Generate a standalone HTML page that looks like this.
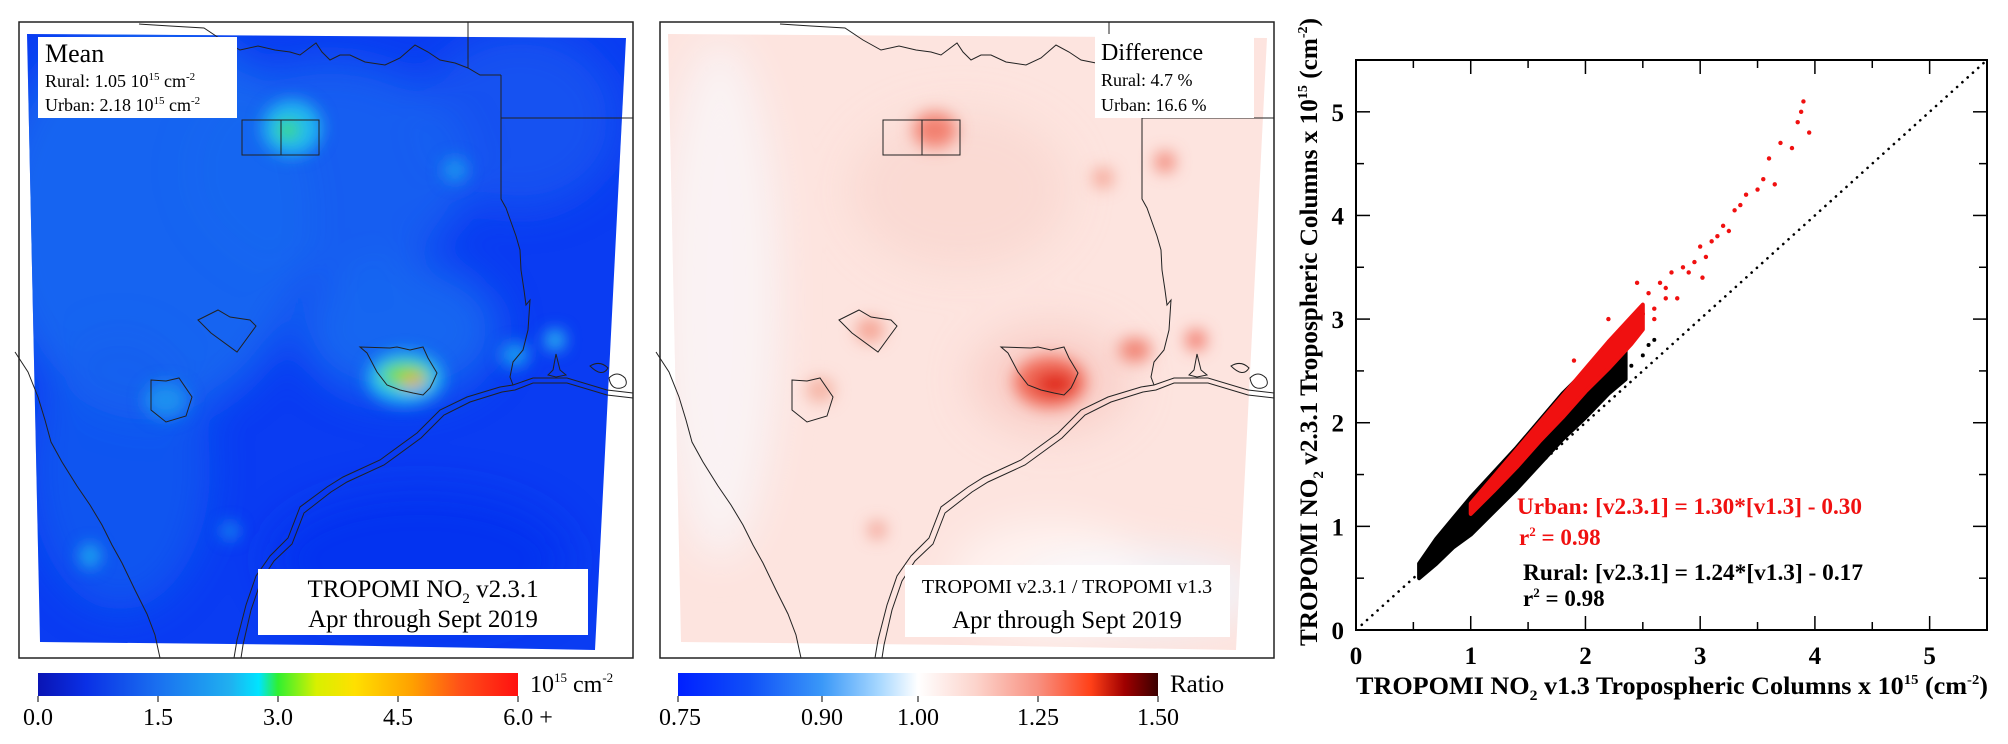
<!DOCTYPE html>
<html><head><meta charset="utf-8">
<style>
html,body{margin:0;padding:0;background:#fff;}
svg{display:block;font-family:"Liberation Serif",serif;}
</style></head>
<body>
<svg id="root" width="2008" height="744" viewBox="0 0 2008 744" xmlns="http://www.w3.org/2000/svg">
<defs>
  <filter id="blur8" x="-50%" y="-50%" width="200%" height="200%"><feGaussianBlur stdDeviation="8"/></filter>
  <filter id="blur20" x="-50%" y="-50%" width="200%" height="200%"><feGaussianBlur stdDeviation="20"/></filter>
  <clipPath id="swath1"><polygon points="27,34 626,38 595,650 320,645 40,642"/></clipPath>
  <clipPath id="swath2"><polygon points="668,34 1267,38 1236,650 961,645 681,642"/></clipPath>
  <linearGradient id="cb1" x1="0" x2="1" y1="0" y2="0">
    <stop offset="0" stop-color="#0a14b4"/><stop offset="0.1" stop-color="#0a30e6"/>
    <stop offset="0.25" stop-color="#1a70f0"/><stop offset="0.4" stop-color="#20b0f0"/>
    <stop offset="0.46" stop-color="#00e4ff"/><stop offset="0.5" stop-color="#30f030"/>
    <stop offset="0.58" stop-color="#d8f000"/><stop offset="0.66" stop-color="#ffe000"/>
    <stop offset="0.78" stop-color="#ffa000"/><stop offset="0.88" stop-color="#ff5018"/>
    <stop offset="1" stop-color="#ff1010"/>
  </linearGradient>
  <linearGradient id="cb2" x1="0" x2="1" y1="0" y2="0">
    <stop offset="0" stop-color="#0020ff"/><stop offset="0.15" stop-color="#1050f8"/>
    <stop offset="0.3" stop-color="#3a98f8"/><stop offset="0.42" stop-color="#a8d8ff"/>
    <stop offset="0.5" stop-color="#ffffff"/><stop offset="0.62" stop-color="#fcd4cc"/>
    <stop offset="0.75" stop-color="#f89080"/><stop offset="0.86" stop-color="#ff4018"/>
    <stop offset="0.93" stop-color="#a00000"/><stop offset="1" stop-color="#3a0000"/>
  </linearGradient>
  <g id="features" fill="none" stroke="#222" stroke-width="1">
    <polyline points="139,24 170,26 204,28 222,40 240,50 258,46 275,50 290,52 300,55 316,43 322,52 330,60 340,55 350,55 365,62 385,65 400,58 415,45 428,52 440,60 455,63 468,68 480,75 501,75"/>
    <line x1="468" y1="22" x2="468" y2="68"/>
    <line x1="501" y1="118" x2="633" y2="118"/>
    <polyline points="501,75 501,199 506,208 511,222 516,236 520,250 521,270 524,290 526,305 530,300 528,330 523,350 513,362 510,377 513,385"/>
    <polyline points="633,393 607,390 567,378 533,378 513,385 500,387 467,397 440,410 417,433 380,460 343,477 327,487 300,507 288,538 270,556 256,576 246,605 237,640 234,658"/>
    <polyline points="633,398 607,395 567,383 533,383 515,390 502,392 470,402 444,415 421,438 384,465 347,482 331,492 304,513 292,544 274,561 261,581 251,610 243,645 241,658"/>
    <polyline points="15,352 28,372 38,397 45,420 51,442 62,462 77,486 90,505 102,525 112,545 122,563 135,590 147,614 155,635 160,658"/>
    <rect x="242" y="120" width="77" height="35"/>
    <line x1="281" y1="120" x2="281" y2="155"/>
    <polygon points="360,347 390,348 397,347 410,350 423,347 428,358 437,373 433,382 430,388 423,395 413,393 400,390 387,385 377,372 367,353"/>
    <polygon points="151,380 166,381 179,378 192,397 186,416 166,422 151,410"/>
    <polygon points="198,320 218,310 230,317 250,320 256,326 237,352 211,333"/>
    <path d="M553,370 l3,-16 l4,16 l6,5 l-10,2 l-8,-2z"/>
    <path d="M590,366 q10,-6 18,2 q-6,10 -18,-2z"/>
    <path d="M609,378 q8,-8 16,0 q4,8 -4,10 q-10,2 -12,-10z"/>
  </g>
</defs>

<!-- PANEL 1 -->
<g>
  <rect x="19" y="22" width="614" height="636" fill="#fff" stroke="#222" stroke-width="1.5"/>
  <g clip-path="url(#swath1)">
    <rect x="18" y="22" width="616" height="636" fill="#0a3cf2"/>
    <g filter="url(#blur20)">
      <ellipse cx="150" cy="220" rx="160" ry="200" fill="#1a6ef0" opacity="0.8"/>
      <ellipse cx="330" cy="170" rx="140" ry="110" fill="#1a68f0" opacity="0.75"/>
      <ellipse cx="520" cy="120" rx="100" ry="90" fill="#1a60f0" opacity="0.6"/>
      <ellipse cx="120" cy="470" rx="90" ry="140" fill="#1560f0" opacity="0.7"/>
      <ellipse cx="400" cy="330" rx="100" ry="70" fill="#1a70f0" opacity="0.8"/>
      <ellipse cx="420" cy="560" rx="150" ry="70" fill="#0830f0" opacity="0.7"/>
    </g>
    <g filter="url(#blur8)">
      <ellipse cx="292" cy="128" rx="30" ry="28" fill="#20b8f0"/>
      <ellipse cx="288" cy="130" rx="11" ry="9" fill="#40e050"/>
      <ellipse cx="405" cy="378" rx="38" ry="26" fill="#20c0f0"/>
      <ellipse cx="405" cy="375" rx="24" ry="12" fill="#70e030"/>
      <ellipse cx="413" cy="381" rx="12" ry="6" fill="#ffb010"/>
      <ellipse cx="416" cy="381" rx="5" ry="3" fill="#ff4010"/>
      <ellipse cx="455" cy="170" rx="12" ry="12" fill="#1a98f0"/>
      <ellipse cx="555" cy="340" rx="10" ry="10" fill="#30c8f0"/>
      <ellipse cx="515" cy="355" rx="14" ry="12" fill="#1aa0f0"/>
      <ellipse cx="90" cy="556" rx="10" ry="12" fill="#20b0f0"/>
      <ellipse cx="230" cy="531" rx="8" ry="8" fill="#1aa0f0"/>
      <ellipse cx="166" cy="400" rx="22" ry="18" fill="#1a90f0"/>
    </g>
  </g>
  <use href="#features"/>
  <rect x="38" y="37" width="199" height="81" fill="#fff"/>
  <text x="45" y="62" font-size="26">Mean</text>
  <text x="45" y="87" font-size="18">Rural: 1.05 10<tspan font-size="11" dy="-7">15</tspan><tspan dy="7"> cm</tspan><tspan font-size="11" dy="-7">-2</tspan></text>
  <text x="45" y="111" font-size="18">Urban: 2.18 10<tspan font-size="11" dy="-7">15</tspan><tspan dy="7"> cm</tspan><tspan font-size="11" dy="-7">-2</tspan></text>
  <rect x="258" y="569" width="330" height="66" fill="#fff"/>
  <text x="423" y="597" font-size="25" text-anchor="middle">TROPOMI NO<tspan font-size="15" dy="6">2</tspan><tspan dy="-6"> v2.3.1</tspan></text>
  <text x="423" y="627" font-size="25" text-anchor="middle">Apr through Sept 2019</text>
  <rect x="38" y="673" width="480" height="23" fill="url(#cb1)"/>
  <g font-size="24" text-anchor="middle">
    <line x1="38" y1="696" x2="38" y2="702" stroke="#000"/><line x1="158" y1="696" x2="158" y2="702" stroke="#000"/>
    <line x1="278" y1="696" x2="278" y2="702" stroke="#000"/><line x1="398" y1="696" x2="398" y2="702" stroke="#000"/>
    <line x1="518" y1="696" x2="518" y2="702" stroke="#000"/>
    <text x="38" y="725">0.0</text><text x="158" y="725">1.5</text><text x="278" y="725">3.0</text><text x="398" y="725">4.5</text><text x="528" y="725">6.0 +</text>
  </g>
  <text x="530" y="692" font-size="24">10<tspan font-size="13" dy="-10">15</tspan><tspan dy="10"> cm</tspan><tspan font-size="13" dy="-10">-2</tspan></text>
</g>

<!-- PANEL 2 -->
<g>
  <rect x="660" y="22" width="614" height="636" fill="#fff" stroke="#222" stroke-width="1.5"/>
  <g clip-path="url(#swath2)">
    <rect x="659" y="22" width="616" height="636" fill="#fde4df"/>
    <g filter="url(#blur20)">
      <ellipse cx="720" cy="300" rx="60" ry="260" fill="#f8f8fc" opacity="0.7"/>
      <ellipse cx="1140" cy="590" rx="120" ry="40" fill="#eef6ff" opacity="0.8"/>
      <ellipse cx="1050" cy="580" rx="100" ry="60" fill="#ffffff" opacity="0.5"/>
      <ellipse cx="1050" cy="380" rx="80" ry="55" fill="#f8c8c0" opacity="0.7"/>
      <ellipse cx="960" cy="190" rx="110" ry="80" fill="#f8d4cc" opacity="0.6"/>
    </g>
    <g filter="url(#blur8)">
      <ellipse cx="935" cy="130" rx="22" ry="18" fill="#f28070"/>
      <ellipse cx="1050" cy="382" rx="36" ry="26" fill="#f06a58"/>
      <ellipse cx="1055" cy="384" rx="20" ry="12" fill="#e02818"/>
      <ellipse cx="1165" cy="162" rx="10" ry="10" fill="#f08070"/>
      <ellipse cx="1103" cy="178" rx="10" ry="10" fill="#f4a090"/>
      <ellipse cx="1196" cy="340" rx="10" ry="10" fill="#f07060"/>
      <ellipse cx="1135" cy="350" rx="16" ry="12" fill="#f08070"/>
      <ellipse cx="870" cy="330" rx="14" ry="12" fill="#f4a090"/>
      <ellipse cx="820" cy="390" rx="14" ry="12" fill="#f4b0a0"/>
      <ellipse cx="877" cy="530" rx="8" ry="8" fill="#f09080"/>
    </g>
  </g>
  <use href="#features" transform="translate(641,0)"/>
  <rect x="1095" y="34" width="159" height="84" fill="#fff"/>
  <text x="1101" y="60" font-size="24">Difference</text>
  <text x="1101" y="86" font-size="18">Rural:   4.7 %</text>
  <text x="1101" y="111" font-size="18">Urban:  16.6 %</text>
  <rect x="905" y="565" width="325" height="72" fill="#fff"/>
  <text x="1067" y="593" font-size="20" text-anchor="middle">TROPOMI v2.3.1 / TROPOMI v1.3</text>
  <text x="1067" y="628" font-size="25" text-anchor="middle">Apr through Sept 2019</text>
  <rect x="678" y="673" width="480" height="23" fill="url(#cb2)"/>
  <g font-size="24" text-anchor="middle">
    <line x1="678" y1="696" x2="678" y2="702" stroke="#000"/><line x1="822" y1="696" x2="822" y2="702" stroke="#000"/>
    <line x1="918" y1="696" x2="918" y2="702" stroke="#000"/><line x1="1038" y1="696" x2="1038" y2="702" stroke="#000"/>
    <line x1="1158" y1="696" x2="1158" y2="702" stroke="#000"/>
    <text x="680" y="725">0.75</text><text x="822" y="725">0.90</text><text x="918" y="725">1.00</text><text x="1038" y="725">1.25</text><text x="1158" y="725">1.50</text>
  </g>
  <text x="1170" y="692" font-size="25">Ratio</text>
</g>

<!-- PANEL 3 scatter -->
<g id="scatter"></g>
</svg>

<script>
// ---- scatter data (units 1e15 cm^-2) ----
const ruralEnvX    = [0.55, 0.7, 0.85, 1.0, 1.2, 1.4, 1.6, 1.8, 2.0, 2.2, 2.35];
const ruralEnvLow  = [0.50, 0.64, 0.80, 0.92, 1.14, 1.36, 1.60, 1.84, 2.05, 2.28, 2.42];
const ruralEnvHigh = [0.64, 0.88, 1.08, 1.28, 1.52, 1.76, 2.02, 2.28, 2.50, 2.68, 2.78];
const urbanEnvX    = [1.0, 1.2, 1.4, 1.6, 1.8, 2.0, 2.2, 2.4, 2.5];
const urbanEnvLow  = [1.12, 1.34, 1.57, 1.82, 2.05, 2.30, 2.52, 2.76, 2.90];
const urbanEnvHigh = [1.22, 1.48, 1.74, 2.00, 2.26, 2.52, 2.78, 3.02, 3.14];
const urbanOutX = [2.55, 2.6, 2.65, 2.7, 2.75, 2.8, 2.85, 2.9, 2.95, 3.0, 3.02, 3.05, 3.1, 3.15, 3.2, 3.25, 3.3, 3.35, 3.4, 3.5, 3.55, 3.6, 3.65, 3.7, 3.8, 3.85, 3.88, 3.9, 3.95, 2.45, 2.2, 1.9, 2.5, 2.6, 2.7];
const urbanOutY = [3.25, 3.1, 3.35, 3.3, 3.45, 3.2, 3.5, 3.45, 3.55, 3.7, 3.4, 3.6, 3.75, 3.8, 3.9, 3.85, 4.05, 4.1, 4.2, 4.25, 4.35, 4.55, 4.3, 4.7, 4.65, 4.9, 5.0, 5.1, 4.8, 3.35, 3.0, 2.6, 3.05, 3.0, 3.2];
const ruralOutX = [2.3, 2.4, 2.5, 2.6, 2.2, 2.1, 2.45, 2.35, 2.55];
const ruralOutY = [2.45, 2.55, 2.65, 2.8, 2.3, 2.2, 2.9, 2.7, 2.75];
const xTicks = [0, 1, 2, 3, 4, 5];
const yTicks = [0, 1, 2, 3, 4, 5];

const NS = 'http://www.w3.org/2000/svg';
const g = document.getElementById('scatter');
const X0 = 1356, X1 = 1987, Y0 = 630, Y1 = 60, MAX = 5.5;
function sx(v){ return X0 + (X1 - X0) * v / MAX; }
function sy(v){ return Y0 - (Y0 - Y1) * v / MAX; }
function mk(tag, attrs, parent){
  const e = document.createElementNS(NS, tag);
  for (const k in attrs) e.setAttribute(k, attrs[k]);
  (parent || g).appendChild(e);
  return e;
}

const frame = mk('rect', {x:X0, y:Y1, width:X1-X0, height:Y0-Y1, fill:'none', stroke:'#000', 'stroke-width':2});



const one = mk('line', {x1:sx(0.05), y1:sy(0.05), x2:sx(5.5), y2:sy(5.5), stroke:'#000', 'stroke-width':2.6, 'stroke-dasharray':'0.1 7', 'stroke-linecap':'round'});



function envelope(xs, lo, hi, color, name){
  const pts = [];
  for (let i = 0; i < xs.length; i++) pts.push(sx(xs[i]) + ',' + sy(hi[i]));
  for (let i = xs.length - 1; i >= 0; i--) pts.push(sx(xs[i]) + ',' + sy(lo[i]));
  const p = mk('polygon', {points: pts.join(' '), fill: color, stroke: color, 'stroke-width': 4, 'stroke-linejoin':'round'});
  
  
}
envelope(ruralEnvX, ruralEnvLow, ruralEnvHigh, '#000', 'rural-point-cloud');
for (let i = 0; i < ruralOutX.length; i++){
  const c = mk('circle', {cx: sx(ruralOutX[i]), cy: sy(ruralOutY[i]), r: 2, fill: '#000'});
  
  
}
envelope(urbanEnvX, urbanEnvLow, urbanEnvHigh, '#f01010', 'urban-point-cloud');
for (let i = 0; i < urbanOutX.length; i++){
  const c = mk('circle', {cx: sx(urbanOutX[i]), cy: sy(urbanOutY[i]), r: 2.2, fill: '#f01010'});
  
  
}

for (let v = 0; v <= 5.5001; v += 0.5){
  const len = (Math.abs(v - Math.round(v)) < 1e-6) ? 14 : 8;
  mk('line', {x1:sx(v), y1:Y0, x2:sx(v), y2:Y0-len, stroke:'#000', 'stroke-width':1.5});
  mk('line', {x1:sx(v), y1:Y1, x2:sx(v), y2:Y1+len, stroke:'#000', 'stroke-width':1.5});
  mk('line', {x1:X0, y1:sy(v), x2:X0+len, y2:sy(v), stroke:'#000', 'stroke-width':1.5});
  mk('line', {x1:X1, y1:sy(v), x2:X1-len, y2:sy(v), stroke:'#000', 'stroke-width':1.5});
}
xTicks.forEach(v => {
  const t = mk('text', {x: sx(v), y: 664, 'font-size': 25, 'font-weight': 'bold', 'text-anchor': 'middle'});
  t.textContent = String(v);
  
  
});
yTicks.forEach(v => {
  const t = mk('text', {x: 1344, y: sy(v) + 9, 'font-size': 25, 'font-weight': 'bold', 'text-anchor': 'end'});
  t.textContent = String(v);
  
  
});
</script>

<svg style="position:absolute;left:0;top:0" width="2008" height="744" xmlns="http://www.w3.org/2000/svg">
  <g font-family="Liberation Serif, serif" font-weight="bold">
    <text x="1356" y="694" font-size="25" textLength="632" lengthAdjust="spacingAndGlyphs">TROPOMI NO<tspan font-size="15" dy="6">2</tspan><tspan dy="-6"> v1.3 Tropospheric Columns x 10</tspan><tspan font-size="14" dy="-10">15</tspan><tspan dy="10"> (cm</tspan><tspan font-size="14" dy="-10">-2</tspan><tspan dy="10">)</tspan></text>
    <text transform="translate(1317,646) rotate(-90)" x="0" y="0" font-size="25" textLength="628" lengthAdjust="spacingAndGlyphs">TROPOMI NO<tspan font-size="15" dy="6">2</tspan><tspan dy="-6"> v2.3.1 Tropospheric Columns x 10</tspan><tspan font-size="14" dy="-10">15</tspan><tspan dy="10"> (cm</tspan><tspan font-size="14" dy="-10">-2</tspan><tspan dy="10">)</tspan></text>
    <text x="1517" y="514" font-size="23" fill="#f01010" textLength="345" lengthAdjust="spacingAndGlyphs">Urban:  [v2.3.1] = 1.30*[v1.3] - 0.30</text>
    <text x="1519" y="545" font-size="23" fill="#f01010">r<tspan font-size="13" dy="-9">2</tspan><tspan dy="9"> =  0.98</tspan></text>
    <text x="1523" y="580" font-size="23" fill="#000" textLength="340" lengthAdjust="spacingAndGlyphs">Rural:   [v2.3.1] = 1.24*[v1.3] - 0.17</text>
    <text x="1523" y="606" font-size="23" fill="#000">r<tspan font-size="13" dy="-9">2</tspan><tspan dy="9"> =  0.98</tspan></text>
  </g>
</svg>
</body></html>
